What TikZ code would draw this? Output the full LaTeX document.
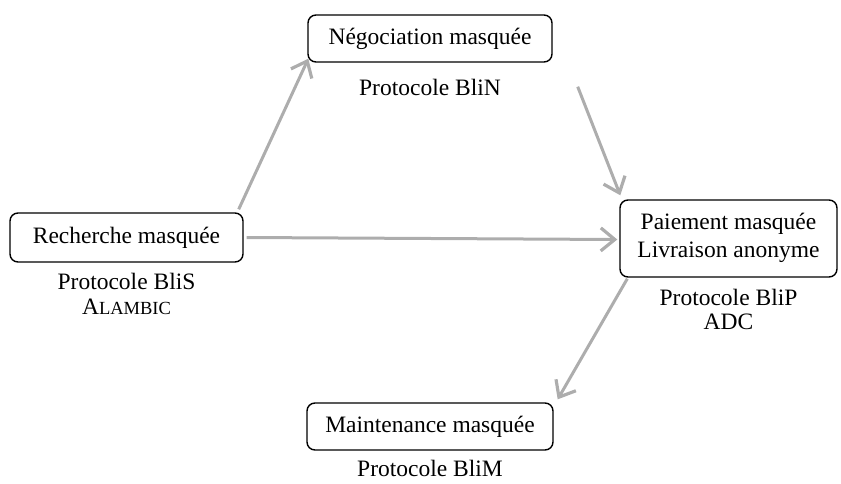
\documentclass[tikz,border=0pt]{standalone}
\usepackage{fontspec}
\setmainfont{Liberation Serif}
\usetikzlibrary{arrows.meta}
\definecolor{flowgray}{HTML}{ADADAD}
\tikzset{
  stage/.style={draw=black, line width=1.4pt, rounded corners=8pt, inner sep=0pt,
    align=center, font=\fontsize{23.5}{28}\selectfont},
  caption/.style={inner sep=0pt, align=center, font=\fontsize{23.5}{28}\selectfont},
  flow/.style={draw=flowgray, line width=3pt,
    -{Straight Barb[length=14pt,width=23pt,line width=3.2pt]}},
}
\newcommand{\fakesc}[1]{{\fontsize{18.5}{20}\selectfont #1}}
\begin{document}
\begin{tikzpicture}[x=1pt,y=-1pt]
  \useasboundingbox (0,0) rectangle (841,483);

  % stages
  \node[stage, minimum width=233pt, minimum height=49pt] (rech) at (126.5,237.5) {Recherche masquée};
  \node[stage, minimum width=244pt, minimum height=47pt] (neg) at (430,38.5) {Négociation masquée};
  \node[stage, minimum width=217pt, minimum height=77pt, text depth=6pt] (pay) at (728.5,238.5) {Paiement masquée\\Livraison anonyme};
  \node[stage, minimum width=246pt, minimum height=47pt] (maint) at (430,426.5) {Maintenance masquée};

  % protocol captions
  \node[caption, anchor=north] (capS) at ([yshift=-10pt]rech.south) {Protocole BliS\\[-3pt]A\fakesc{LAMBIC}};
  \node[caption, anchor=north] (capN) at ([yshift=-16pt]neg.south) {Protocole BliN};
  \node[caption, anchor=north] (capP) at ([yshift=-11pt]pay.south) {Protocole BliP\\[-4pt]ADC};
  \node[caption, anchor=north] (capM) at ([yshift=-9pt]maint.south) {Protocole BliM};

  % flows between stages
  \coordinate (a1s) at ([xshift=-5pt,yshift=3pt]rech.north east);
  \coordinate (a1e) at ([xshift=1pt,yshift=4pt]neg.south west);
  \draw[flow] (a1s) -- (a1e);

  \coordinate (a2s) at ([xshift=25pt,yshift=-24pt]neg.south east);
  \coordinate (a2e) at ([xshift=1pt,yshift=4pt]pay.north west);
  \draw[flow] (a2s) -- (a2e);

  \draw[flow] ([xshift=3pt]rech.east) -- ([xshift=-2pt,yshift=-1pt]pay.west);

  \coordinate (a4s) at ([xshift=8pt,yshift=-1pt]pay.south west);
  \coordinate (a4e) at ([xshift=4pt,yshift=3pt]maint.north east);
  \draw[flow] (a4s) -- (a4e);
\end{tikzpicture}
\end{document}
